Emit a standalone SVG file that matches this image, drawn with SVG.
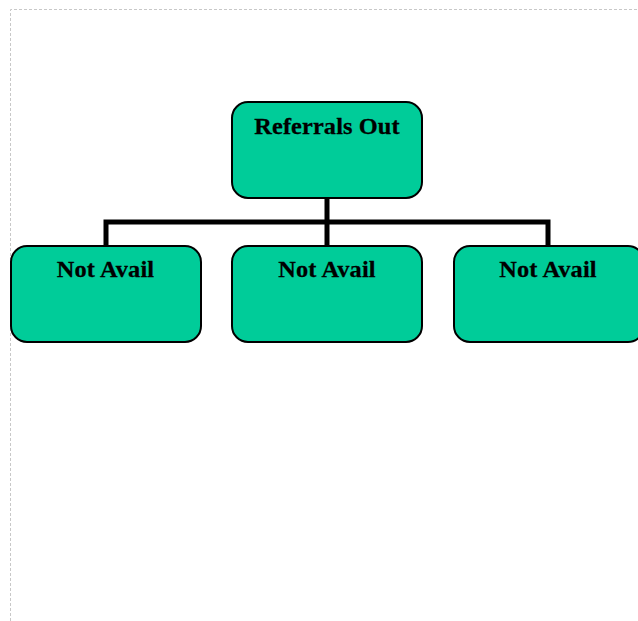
<svg xmlns="http://www.w3.org/2000/svg" width="638" height="621" viewBox="0 0 638 621">
  <style>
    .box { fill: #00cc99; stroke: #000; stroke-width: 2; }
    .label { font-family: "Liberation Serif", "Times New Roman", serif; font-weight: bold; font-size: 23px; letter-spacing: 0.1px; fill: #000; stroke: #000; stroke-width: 0.25; text-anchor: middle; }
    .wire { fill: none; stroke: #000; stroke-width: 5; }
    .frame { fill: none; stroke: #c8c8c8; stroke-width: 1; stroke-dasharray: 3 2; }
  </style>
  <rect width="638" height="621" fill="#fff"/>
  <!-- page frame -->
  <path class="frame" d="M10.5,621 V9.5 H638"/>
  <!-- connectors -->
  <g id="connectors">
    <path class="wire" d="M327,198 V246 M106,246 V222 H548 V246"/>
  </g>
  <g id="node-referrals-out">
    <rect class="box" x="232" y="102" width="190" height="96" rx="16" ry="16"/>
    <text class="label" transform="translate(327,134) scale(1.06,1)">Referrals Out</text>
  </g>
  <g id="node-not-avail-1">
    <rect class="box" x="11" y="246" width="190" height="96" rx="16" ry="16"/>
    <text class="label" transform="translate(105.5,277) scale(1.06,1)">Not Avail</text>
  </g>
  <g id="node-not-avail-2">
    <rect class="box" x="232" y="246" width="190" height="96" rx="16" ry="16"/>
    <text class="label" transform="translate(327,277) scale(1.06,1)">Not Avail</text>
  </g>
  <g id="node-not-avail-3">
    <rect class="box" x="454" y="246" width="190" height="96" rx="16" ry="16"/>
    <text class="label" transform="translate(548,277) scale(1.06,1)">Not Avail</text>
  </g>
</svg>
